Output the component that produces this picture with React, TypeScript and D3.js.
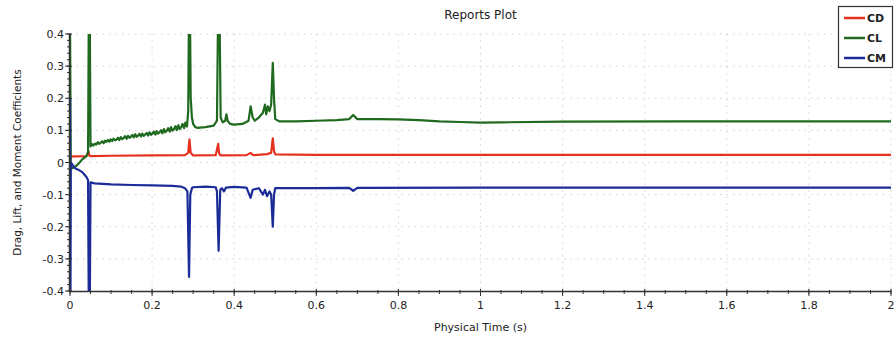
import React from "react";
import * as d3 from "d3";

// Time samples (s) and coefficient values for each monitored report
const cdTime = [0, 0.003, 0.01, 0.04, 0.045, 0.047, 0.05, 0.1, 0.2, 0.28, 0.288, 0.291, 0.294, 0.3, 0.355, 0.361, 0.363, 0.366, 0.37, 0.43, 0.44, 0.445, 0.45, 0.48, 0.49, 0.494, 0.497, 0.5, 0.6, 0.8, 1.0, 1.5, 2.0];
const cdValues = [0.01, 0.018, 0.019, 0.02, 0.035, 0.022, 0.02, 0.021, 0.022, 0.023, 0.03, 0.072, 0.03, 0.022, 0.023, 0.058, 0.03, 0.023, 0.022, 0.023, 0.03, 0.024, 0.023, 0.026, 0.03, 0.075, 0.035, 0.025, 0.024, 0.024, 0.024, 0.024, 0.024];

const clTime = [0, 0.002, 0.01, 0.02, 0.03, 0.04, 0.044, 0.046, 0.048,
  0.050, 0.054, 0.057, 0.061, 0.064, 0.068, 0.071, 0.075, 0.078, 0.082, 0.085, 0.089, 0.092, 0.096, 0.099, 0.103, 0.106, 0.110, 0.113, 0.117, 0.120, 0.124, 0.127, 0.131, 0.134, 0.138, 0.141, 0.145, 0.148, 0.152, 0.155, 0.159, 0.162, 0.166, 0.169, 0.173, 0.176, 0.180, 0.183, 0.187, 0.190, 0.194, 0.197, 0.201, 0.204, 0.208, 0.211, 0.215, 0.218, 0.222, 0.225, 0.229, 0.232, 0.236, 0.239, 0.243, 0.246, 0.250, 0.253, 0.257, 0.260, 0.264, 0.267, 0.271, 0.274, 0.278, 0.281, 0.285,
  0.288, 0.290, 0.292, 0.294, 0.297, 0.300, 0.305, 0.31, 0.33, 0.35, 0.358, 0.361, 0.364, 0.367, 0.372, 0.378, 0.381, 0.384, 0.39, 0.4, 0.42, 0.435, 0.44, 0.445, 0.45, 0.46, 0.47, 0.475, 0.478, 0.482, 0.486, 0.49, 0.494, 0.497, 0.5, 0.51, 0.55, 0.6, 0.65, 0.68, 0.69, 0.70, 0.75, 0.8, 0.85, 0.9, 0.95, 1.0, 1.05, 1.2, 1.5, 2.0];
const clValues = [0.45, -0.02, -0.015, -0.005, 0.01, 0.02, 0.03, 0.5, 0.5,
  0.050, 0.057, 0.053, 0.059, 0.056, 0.063, 0.058, 0.062, 0.066, 0.060, 0.068, 0.064, 0.070, 0.065, 0.072, 0.067, 0.074, 0.069, 0.071, 0.077, 0.070, 0.079, 0.073, 0.076, 0.082, 0.074, 0.083, 0.077, 0.080, 0.086, 0.078, 0.088, 0.080, 0.084, 0.089, 0.081, 0.090, 0.083, 0.087, 0.092, 0.084, 0.094, 0.086, 0.090, 0.096, 0.087, 0.098, 0.090, 0.094, 0.101, 0.091, 0.104, 0.094, 0.099, 0.107, 0.096, 0.110, 0.099, 0.104, 0.113, 0.101, 0.116, 0.104, 0.110, 0.120, 0.107, 0.124, 0.112,
  0.16, 0.5, 0.5, 0.2, 0.14, 0.12, 0.11, 0.108, 0.11, 0.115, 0.13, 0.5, 0.5, 0.14, 0.125, 0.13, 0.15, 0.13, 0.12, 0.118, 0.12, 0.13, 0.175, 0.14, 0.13, 0.14, 0.155, 0.18, 0.15, 0.175, 0.16, 0.18, 0.31, 0.2, 0.135, 0.128, 0.128, 0.13, 0.132, 0.135, 0.148, 0.135, 0.135, 0.134, 0.132, 0.128, 0.126, 0.124, 0.125, 0.127, 0.128, 0.128];

const cmTime = [0, 0.001, 0.002, 0.005, 0.01, 0.015, 0.02, 0.03, 0.04, 0.044, 0.046, 0.048, 0.05, 0.06, 0.1, 0.15, 0.2, 0.25, 0.27, 0.28, 0.286, 0.29, 0.293, 0.297, 0.3, 0.33, 0.355, 0.358, 0.362, 0.366, 0.37, 0.375, 0.38, 0.4, 0.43, 0.44, 0.445, 0.46, 0.47, 0.475, 0.48, 0.486, 0.49, 0.494, 0.497, 0.5, 0.6, 0.68, 0.69, 0.7, 1.0, 2.0];
const cmValues = [0.2, -0.5, 0.0, -0.005, -0.015, -0.02, -0.022, -0.03, -0.045, -0.055, -0.5, -0.5, -0.062, -0.065, -0.068, -0.07, -0.071, -0.073, -0.075, -0.08, -0.09, -0.356, -0.1, -0.08, -0.077, -0.075, -0.077, -0.09, -0.275, -0.085, -0.08, -0.09, -0.078, -0.076, -0.078, -0.11, -0.085, -0.08, -0.1, -0.085, -0.105, -0.09, -0.1, -0.2, -0.1, -0.08, -0.08, -0.079, -0.088, -0.079, -0.078, -0.078];

const seriesNames = ["CD", "CL", "CM"];
const seriesColors = ["#e5321f", "#1f6a1f", "#1b2b98"];

const xTicks = [0, 0.2, 0.4, 0.6, 0.8, 1, 1.2, 1.4, 1.6, 1.8, 2];
const yTicks = [0.4, 0.3, 0.2, 0.1, 0, -0.1, -0.2, -0.3, -0.4];

const W = 895;
const H = 344;
const margin = { left: 70, right: 4, top: 34, bottom: 53 };
const FONT = "'DejaVu Sans', sans-serif";

export default function App() {
  const x = d3.scaleLinear().domain([0, 2]).range([margin.left, W - margin.right]);
  const y = d3.scaleLinear().domain([-0.4, 0.4]).range([H - margin.bottom, margin.top]);

  const series = [
    { name: seriesNames[0], color: seriesColors[0], t: cdTime, v: cdValues },
    { name: seriesNames[1], color: seriesColors[1], t: clTime, v: clValues },
    { name: seriesNames[2], color: seriesColors[2], t: cmTime, v: cmValues },
  ];

  const line = d3
    .line<[number, number]>()
    .x((d) => x(d[0]))
    .y((d) => y(d[1]));

  const xMinor = d3.range(0, 2.0001, 0.05);
  const yMinor = d3.range(-0.4, 0.40001, 0.02);
  const [x0, x1] = x.range();
  const [yb, yt] = y.range();

  return (
    <svg
      width={W}
      height={H}
      style={{ position: "absolute", left: 0, top: 0, background: "#fff" }}
      fontFamily={FONT}
    >
      <defs>
        <clipPath id="plot-clip">
          <rect x={x0} y={yt} width={x1 - x0} height={yb - yt} />
        </clipPath>
      </defs>

      {/* title */}
      <text x={(x0 + x1) / 2} y={19} textAnchor="middle" fontSize={12} fill="#222">
        Reports Plot
      </text>

      {/* dotted grid */}
      <g stroke="#d2d2d2" strokeWidth={1} strokeDasharray="1.5,5">
        {xTicks.slice(1).map((t) => (
          <line key={"gx" + t} x1={x(t)} x2={x(t)} y1={yt} y2={yb} />
        ))}
        {yTicks.slice(0, -1).map((t) => (
          <line key={"gy" + t} x1={x0} x2={x1} y1={y(t)} y2={y(t)} />
        ))}
      </g>

      {/* series */}
      <g clipPath="url(#plot-clip)" fill="none" strokeLinejoin="round">
        {series.map((s) => (
          <path
            key={s.name}
            d={line(s.t.map((t, i) => [t, s.v[i]] as [number, number])) || ""}
            stroke={s.color}
            strokeWidth={2.2}
          />
        ))}
      </g>

      {/* x axis */}
      <g stroke="#333" strokeWidth={1}>
        <line x1={x0} x2={x1} y1={yb + 0.5} y2={yb + 0.5} strokeWidth={1.5} />
        {xMinor.map((t) => (
          <line key={"xm" + t} x1={x(t)} x2={x(t)} y1={yb - 1} y2={yb + 3} />
        ))}
        {xTicks.map((t) => (
          <line key={"xt" + t} x1={x(t)} x2={x(t)} y1={yb - 2} y2={yb + 5} />
        ))}
      </g>
      {xTicks.map((t) => (
        <text key={"xl" + t} x={x(t)} y={yb + 18} textAnchor="middle" fontSize={11} fill="#222">
          {String(t)}
        </text>
      ))}
      <text x={(x0 + x1) / 2} y={331} textAnchor="middle" fontSize={11} fill="#222">
        Physical Time (s)
      </text>

      {/* y axis */}
      <g stroke="#333" strokeWidth={1}>
        <line x1={x0 - 0.5} x2={x0 - 0.5} y1={yt} y2={yb} strokeWidth={1.5} />
        {yMinor.map((t) => (
          <line key={"ym" + t.toFixed(2)} x1={x0 - 3} x2={x0 + 1} y1={y(t)} y2={y(t)} />
        ))}
        {yTicks.map((t) => (
          <line key={"yt" + t} x1={x0 - 5} x2={x0 + 2} y1={y(t)} y2={y(t)} />
        ))}
      </g>
      {yTicks.map((t) => (
        <text key={"yl" + t} x={x0 - 6} y={y(t) + 4} textAnchor="end" fontSize={11} fill="#222">
          {String(t)}
        </text>
      ))}
      <text
        transform={`translate(21,${(yt + yb) / 2}) rotate(-90)`}
        textAnchor="middle"
        fontSize={10.5}
        fill="#222"
      >
        Drag, Lift, and Moment Coefficients
      </text>

      {/* legend */}
      <g>
        <rect x={838.5} y={6.5} width={54} height={61} fill="#fff" stroke="#333" strokeWidth={1.2} />
        {series.map((s, i) => (
          <g key={"lg" + s.name}>
            <line x1={844} x2={865} y1={18 + i * 20} y2={18 + i * 20} stroke={s.color} strokeWidth={2.5} />
            <text x={867} y={22 + i * 20} fontSize={11} fontWeight="bold" fill="#222">
              {s.name}
            </text>
          </g>
        ))}
      </g>
    </svg>
  );
}
